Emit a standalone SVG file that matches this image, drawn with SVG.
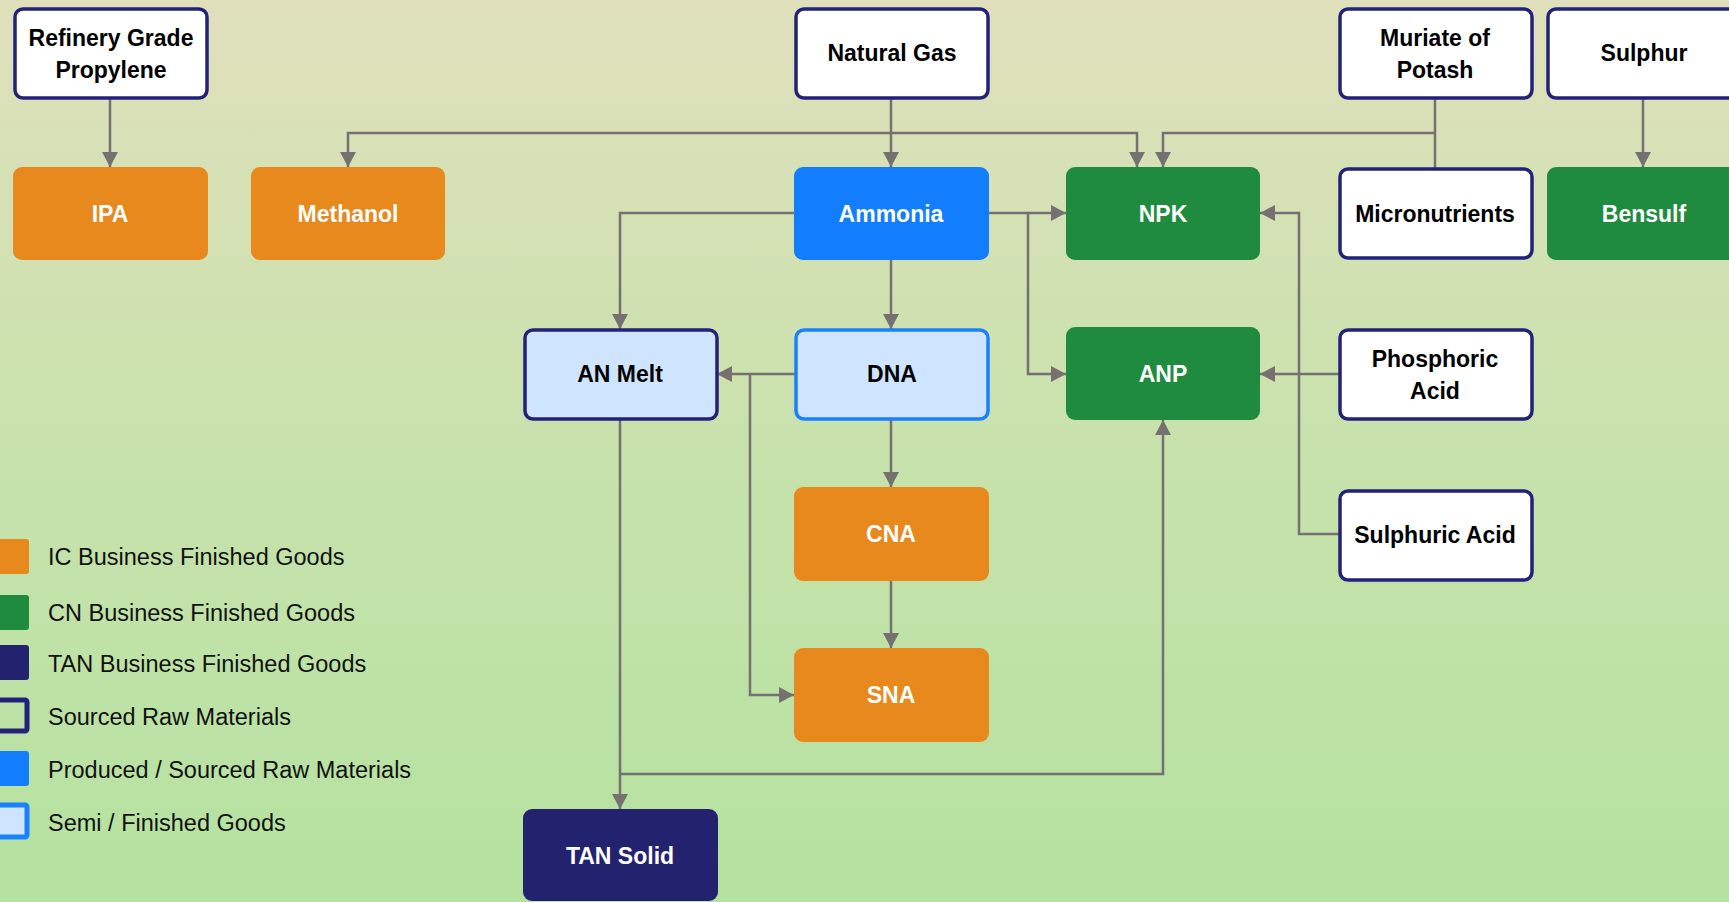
<svg xmlns="http://www.w3.org/2000/svg" width="1729" height="902" viewBox="0 0 1729 902">
<defs>
<linearGradient id="bg" x1="0" y1="0" x2="0" y2="1">
<stop offset="0" stop-color="#E0E0BC"/>
<stop offset="0.5" stop-color="#C8E2AC"/>
<stop offset="1" stop-color="#B4E2A0"/>
</linearGradient>
<marker id="arr" markerUnits="userSpaceOnUse" markerWidth="15" markerHeight="16" refX="15" refY="8" orient="auto">
<path d="M0,0 L15,8 L0,16 z" fill="#767171"/>
</marker>
<style>
.raw{fill:#FFFFFF;stroke:#23227A;stroke-width:3.5}
.ic{fill:#E8891E}
.cn{fill:#1F8B3F}
.tan{fill:#23226F}
.prod{fill:#127EFD}
.semi{fill:#CFE4FE;stroke:#23227A;stroke-width:3.5}
.semib{fill:#CFE4FE;stroke:#1A80FD;stroke-width:3.5}
.lbl{font-family:"Liberation Sans",Arial,sans-serif;font-weight:bold;font-size:23px;text-anchor:middle}
.dk{fill:#000000}
.wt{fill:#FFFFFF}
.con{fill:none;stroke:#767171;stroke-width:2.5}
.arr{marker-end:url(#arr)}
.leg{font-family:"Liberation Sans",Arial,sans-serif;font-size:23.5px;fill:#111111}
</style>
</defs>
<rect x="0" y="0" width="1729" height="902" fill="url(#bg)"/>

<g id="connectors">
<path class="con arr" d="M110,98 V167"/>
<path class="con arr" d="M891,98 V167"/>
<path class="con arr" d="M891,133 H348 V167"/>
<path class="con arr" d="M891,133 H1137 V167"/>
<path class="con" d="M1435,98 V168"/>
<path class="con arr" d="M1435,133 H1163 V167"/>
<path class="con arr" d="M1643,98 V167"/>
<path class="con arr" d="M794,213 H620 V329"/>
<path class="con arr" d="M891,260 V329"/>
<path class="con arr" d="M989,213 H1066"/>
<path class="con arr" d="M1028,213 V374 H1066"/>
<path class="con arr" d="M795,374 H717"/>
<path class="con arr" d="M750,374 V695 H794"/>
<path class="con arr" d="M891,419 V487"/>
<path class="con arr" d="M891,581 V648"/>
<path class="con arr" d="M620,419 V809"/>
<path class="con arr" d="M620,774 H1163 V420"/>
<path class="con arr" d="M1339,374 H1260"/>
<path class="con arr" d="M1339,534 H1299 V213 H1260"/>
</g>

<g id="refinery-grade-propylene">
<rect class="raw" x="15" y="9" width="192" height="89" rx="8"/>
<text class="lbl dk" x="111" y="46">Refinery Grade</text>
<text class="lbl dk" x="111" y="78">Propylene</text>
</g>
<g id="ipa">
<rect class="ic" x="13" y="167" width="195" height="93" rx="9"/>
<text class="lbl wt" x="110" y="222">IPA</text>
</g>
<g id="methanol">
<rect class="ic" x="251" y="167" width="194" height="93" rx="9"/>
<text class="lbl wt" x="348" y="222">Methanol</text>
</g>
<g id="natural-gas">
<rect class="raw" x="796" y="9" width="192" height="89" rx="8"/>
<text class="lbl dk" x="892" y="61">Natural Gas</text>
</g>
<g id="ammonia">
<rect class="prod" x="794" y="167" width="195" height="93" rx="9"/>
<text class="lbl wt" x="891" y="222">Ammonia</text>
</g>
<g id="npk">
<rect class="cn" x="1066" y="167" width="194" height="93" rx="9"/>
<text class="lbl wt" x="1163" y="222">NPK</text>
</g>
<g id="muriate-of-potash">
<rect class="raw" x="1340" y="9" width="192" height="89" rx="8"/>
<text class="lbl dk" x="1435" y="46">Muriate of</text>
<text class="lbl dk" x="1435" y="78">Potash</text>
</g>
<g id="micronutrients">
<rect class="raw" x="1340" y="169" width="192" height="89" rx="8"/>
<text class="lbl dk" x="1435" y="222">Micronutrients</text>
</g>
<g id="sulphur">
<rect class="raw" x="1548" y="9" width="192" height="89" rx="8"/>
<text class="lbl dk" x="1644" y="61">Sulphur</text>
</g>
<g id="bensulf">
<rect class="cn" x="1547" y="167" width="194" height="93" rx="9"/>
<text class="lbl wt" x="1644" y="222">Bensulf</text>
</g>
<g id="an-melt">
<rect class="semi" x="525" y="330" width="192" height="89" rx="8"/>
<text class="lbl dk" x="620" y="382">AN Melt</text>
</g>
<g id="dna">
<rect class="semib" x="796" y="330" width="192" height="89" rx="8"/>
<text class="lbl dk" x="892" y="382">DNA</text>
</g>
<g id="anp">
<rect class="cn" x="1066" y="327" width="194" height="93" rx="9"/>
<text class="lbl wt" x="1163" y="382">ANP</text>
</g>
<g id="phosphoric-acid">
<rect class="raw" x="1340" y="330" width="192" height="89" rx="8"/>
<text class="lbl dk" x="1435" y="367">Phosphoric</text>
<text class="lbl dk" x="1435" y="399">Acid</text>
</g>
<g id="sulphuric-acid">
<rect class="raw" x="1340" y="491" width="192" height="89" rx="8"/>
<text class="lbl dk" x="1435" y="543">Sulphuric Acid</text>
</g>
<g id="cna">
<rect class="ic" x="794" y="487" width="195" height="94" rx="9"/>
<text class="lbl wt" x="891" y="542">CNA</text>
</g>
<g id="sna">
<rect class="ic" x="794" y="648" width="195" height="94" rx="9"/>
<text class="lbl wt" x="891" y="703">SNA</text>
</g>
<g id="tan-solid">
<rect class="tan" x="523" y="809" width="195" height="92" rx="9"/>
<text class="lbl wt" x="620" y="864">TAN Solid</text>
</g>

<g id="legend">
<rect class="ic" x="-8" y="539" width="37" height="35" rx="3"/>
<text class="leg" x="48" y="565">IC Business Finished Goods</text>
<rect class="cn" x="-8" y="595" width="37" height="35" rx="3"/>
<text class="leg" x="48" y="621">CN Business Finished Goods</text>
<rect class="tan" x="-8" y="645" width="37" height="35" rx="3"/>
<text class="leg" x="48" y="672">TAN Business Finished Goods</text>
<rect x="-8" y="700" width="35" height="31" rx="2" fill="none" stroke="#23227A" stroke-width="5"/>
<text class="leg" x="48" y="725">Sourced Raw Materials</text>
<rect class="prod" x="-8" y="751" width="37" height="35" rx="3"/>
<text class="leg" x="48" y="778">Produced / Sourced Raw Materials</text>
<rect x="-8" y="805" width="35" height="32" rx="2" fill="#CFE4FE" stroke="#1A80FD" stroke-width="5"/>
<text class="leg" x="48" y="831">Semi / Finished Goods</text>
</g>
</svg>
